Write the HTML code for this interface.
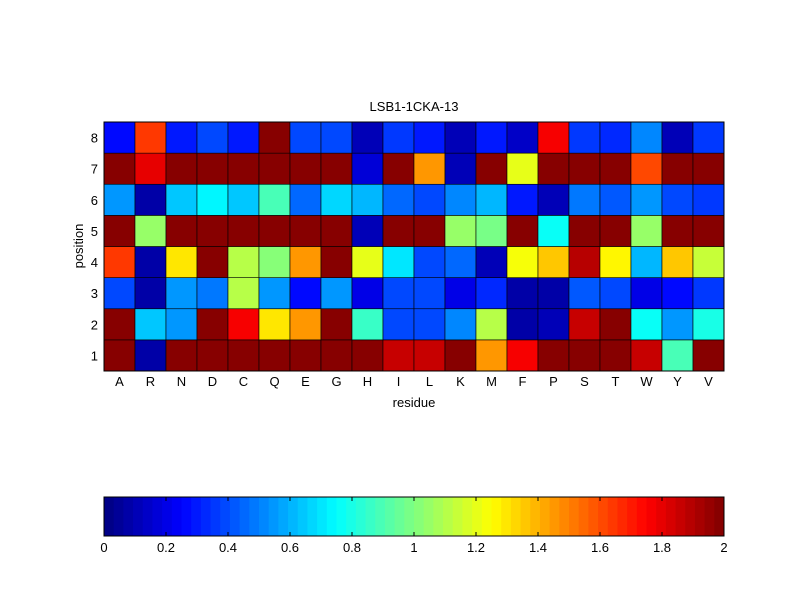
<!DOCTYPE html>
<html><head><meta charset="utf-8"><style>
body{margin:0;background:#fff;}
svg text{font-family:"Liberation Sans",sans-serif;font-size:13px;fill:#000;}
</style></head><body>
<svg id="c" width="800" height="600" xmlns="http://www.w3.org/2000/svg">
<rect width="800" height="600" fill="#fff"/>
<text x="414" y="111" text-anchor="middle">LSB1-1CKA-13</text>
<text x="414" y="407" text-anchor="middle">residue</text>
<text transform="translate(83,246) rotate(-90)" text-anchor="middle">position</text>
<g id="cells"></g><g id="axes"></g><g id="cbar"></g>
</svg>
<script>
const residues=["A","R","N","D","C","Q","E","G","H","I","L","K","M","F","P","S","T","W","Y","V"];
const positions=[1,2,3,4,5,6,7,8];
const row1=[2,0.08,2,2,2,2,2,2,2,1.85,1.85,2,1.45,1.75,2,2,2,1.85,0.9,2];
const row2=[2,0.65,0.55,2,1.75,1.3,1.45,2,0.85,0.4,0.4,0.5,1.1,0.08,0.1,1.85,2,0.75,0.55,0.8];
const row3=[0.38,0.08,0.55,0.48,1.1,0.55,0.25,0.55,0.2,0.4,0.4,0.2,0.32,0.08,0.08,0.42,0.38,0.2,0.25,0.35];
const row4=[1.65,0.08,1.3,2,1.1,1.0,1.45,2,1.2,0.7,0.4,0.45,0.12,1.22,1.35,1.9,1.25,0.6,1.35,1.15];
const row5=[2,1.05,2,2,2,2,2,2,0.1,2,2,1.05,0.98,2,0.78,2,2,1.05,2,2];
const row6=[0.55,0.08,0.65,0.72,0.65,0.9,0.45,0.68,0.6,0.45,0.4,0.5,0.6,0.3,0.1,0.48,0.42,0.55,0.4,0.35];
const row7=[2,1.8,2,2,2,2,2,2,0.18,2,1.45,0.1,2,1.2,2,2,2,1.6,2,2];
const row8=[0.25,1.65,0.3,0.4,0.3,2,0.4,0.38,0.1,0.35,0.3,0.1,0.3,0.15,1.75,0.35,0.32,0.5,0.12,0.35];
const rows=[row1,row2,row3,row4,row5,row6,row7,row8];
const cbTicks=[0,0.2,0.4,0.6,0.8,1,1.2,1.4,1.6,1.8,2];
const NS="http://www.w3.org/2000/svg";
const L=104,R=724,T=122,B=371,vmin=0,vmax=2;
const cw=(R-L)/residues.length, ch=(B-T)/positions.length;
const xPos=i=>L+i*cw, yPos=j=>B-(j+1)*ch;
function jet(v){let t=(v-vmin)/(vmax-vmin);t=Math.max(0,Math.min(1,t));let k=Math.min(63,Math.floor(t*64));t=(k+0.5)/64;
 const c=x=>Math.round(255*Math.max(0,Math.min(1,1.5-Math.abs(x))));return `rgb(${c(4*t-3)},${c(4*t-2)},${c(4*t-1)})`;}
function mk(tag,a,p){const e=document.createElementNS(NS,tag);for(const k in a)e.setAttribute(k,a[k]);p.appendChild(e);return e;}
const cells=document.getElementById('cells');
rows.forEach((r,j)=>r.forEach((v,i)=>{
 const e=mk('rect',{x:xPos(i),y:yPos(j),width:cw,height:ch,fill:jet(v),stroke:'#000','stroke-width':0.6},cells);
 
 
}));
const ax=document.getElementById('axes');
mk('rect',{x:L,y:T,width:R-L,height:B-T,fill:'none',stroke:'#000','stroke-width':1},ax);
residues.forEach((r,i)=>{const t=mk('text',{x:xPos(i)+cw/2,y:B+15,'text-anchor':'middle'},ax);t.textContent=r;
 
 });
positions.forEach((p,j)=>{const t=mk('text',{x:L-6,y:yPos(j)+ch/2+5,'text-anchor':'end'},ax);t.textContent=p;
 
 });
const cb=document.getElementById('cbar');
const CT=497,CB=536;
const cx=v=>L+(v-vmin)/(vmax-vmin)*(R-L);
for(let k=0;k<64;k++){const v=vmin+(k+0.5)/64*(vmax-vmin);
 const e=mk('rect',{x:cx(vmin+k/64*(vmax-vmin)),y:CT,width:(R-L)/64+0.5,height:CB-CT,fill:jet(v)},cb);
 
 }
mk('rect',{x:L,y:CT,width:R-L,height:CB-CT,fill:'none',stroke:'#000','stroke-width':1},cb);
cbTicks.forEach(v=>{const x=cx(v);
 mk('line',{x1:x,y1:CB,x2:x,y2:CB-4,stroke:'#000'},cb);mk('line',{x1:x,y1:CT,x2:x,y2:CT+4,stroke:'#000'},cb);
 const t=mk('text',{x:x,y:CB+16,'text-anchor':'middle'},cb);t.textContent=String(v);
 
 });
</script>
</body></html>
